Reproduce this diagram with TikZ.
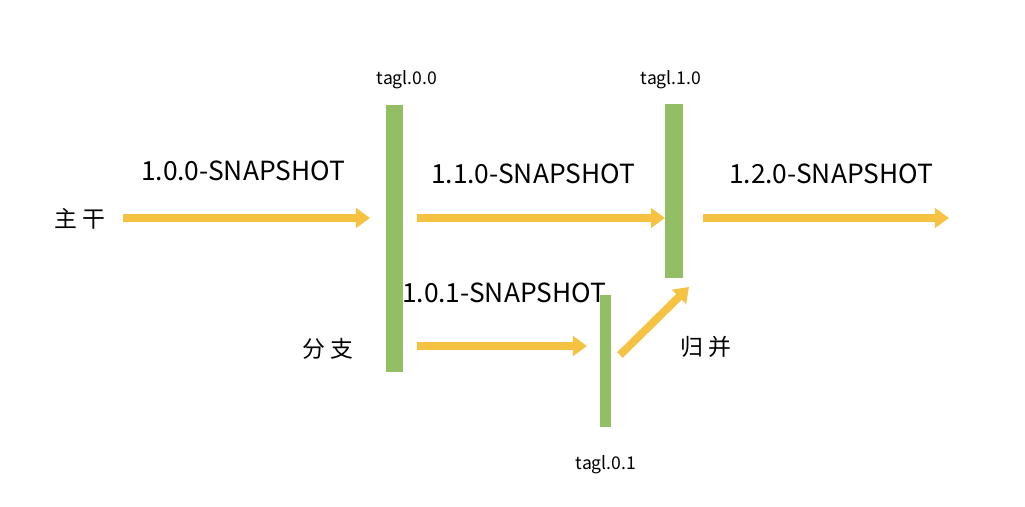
\documentclass[tikz,border=0pt]{standalone}
\usepackage{fontspec}
\newfontfamily\cjk{Noto Sans CJK SC}
\usetikzlibrary{arrows.meta}
\definecolor{barGreen}{HTML}{92BE64}
\definecolor{arrYellow}{HTML}{F5C242}
\begin{document}
\begin{tikzpicture}[x=0.02cm, y=-0.02cm,
    bar/.style={fill=barGreen, draw=none},
    flow/.style={draw=arrYellow, line width=4.5pt, -{Triangle[length=8pt,width=11pt]}},
    ver/.style={font=\cjk\fontsize{15}{15}\selectfont},
    tagtxt/.style={font=\cjk\fontsize{10}{10}\selectfont},
    zh/.style={font=\cjk\fontsize{13}{13}\selectfont}]
    \useasboundingbox (0,0) rectangle (1025,507);

    % Tags
    \fill[bar] (386,105) rectangle (403,372);
    \fill[bar] (665,104) rectangle (683,278);
    \fill[bar] (600,295) rectangle (611,427);
    \node[tagtxt] (t00) at (407,80) {tagl.0.0};
    \node[tagtxt] (t10) at (671,80) {tagl.1.0};
    \node[tagtxt] (t01) at (606,465) {tagl.0.1};

    % Trunk
    \coordinate (m0) at (123,218);
    \coordinate (m1) at (370,218);
    \coordinate (m2) at (417,218);
    \coordinate (m3) at (665,218);
    \coordinate (m4) at (703,218);
    \coordinate (m5) at (949,218);
    \draw[flow] (m0) -- (m1);
    \draw[flow] (m2) -- (m3);
    \draw[flow] (m4) -- (m5);

    % Branch and merge
    \coordinate (b0) at (417,346);
    \coordinate (b1) at (587,346);
    \coordinate (g0) at (620,355);
    \coordinate (g1) at (689,287);
    \draw[flow] (b0) -- (b1);
    \draw[flow] (g0) -- (g1);

    % Labels
    \node[ver] (v100) at (243,171) {1.0.0-SNAPSHOT};
    \node[ver] (v110) at (533,174) {1.1.0-SNAPSHOT};
    \node[ver] (v120) at (831,174) {1.2.0-SNAPSHOT};
    \node[ver] (v101) at (504,293) {1.0.1-SNAPSHOT};
    \node[zh] (trunk) at (80,219) {主 干};
    \node[zh] (branch) at (328,349) {分 支};
    \node[zh] (merge) at (706,347) {归 并};
\end{tikzpicture}
\end{document}
